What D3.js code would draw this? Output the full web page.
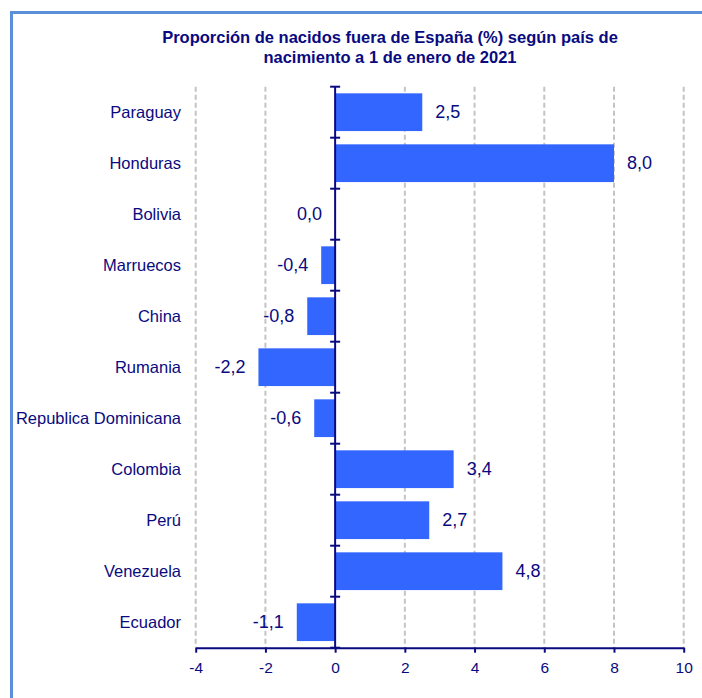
<!DOCTYPE html>
<html>
<head>
<meta charset="utf-8">
<script src="https://cdn.jsdelivr.net/npm/d3@7"></script>
<style>
  html, body { margin: 0; padding: 0; background: #fff; }
  svg { display: block; font-family: Arial, "Liberation Sans", sans-serif; }
</style>
</head>
<body>
<svg id="chart" width="702" height="698"></svg>
<script>
const titleLines = ["Proporción de nacidos fuera de España (%) según país de", "nacimiento a 1 de enero de 2021"];
const categories = ["Paraguay", "Honduras", "Bolivia", "Marruecos", "China", "Rumania", "Republica Dominicana", "Colombia", "Perú", "Venezuela", "Ecuador"];
const values = [2.5, 8.0, 0.0, -0.4, -0.8, -2.2, -0.6, 3.4, 2.7, 4.8, -1.1];
const xTicks = [-4, -2, 0, 2, 4, 6, 8, 10];

const navy = "#0a0a80";
const svg = d3.select("#chart");

// frame
svg.append("rect").attr("x", 11.5).attr("y", 12.5).attr("width", 700).attr("height", 700)
  .attr("fill", "none").attr("stroke", "#5b8fd7").attr("stroke-width", 3);

// title
svg.append("text").attr("x", 390).attr("y", 43).attr("text-anchor", "middle")
  .attr("font-size", "16.5px").attr("font-weight", "bold").attr("fill", navy)
  .selectAll("tspan").data(titleLines).join("tspan")
  .attr("x", 390).attr("dy", (d, i) => i === 0 ? 0 : 19.5).text(d => d);

const plotTop = 86.7, plotBottom = 647.7;
const x = d3.scaleLinear().domain([-4, 10]).range([195.7, 683.7]);
const y = d3.scaleBand().domain(categories).range([plotTop, plotBottom]).paddingInner(0.26).paddingOuter(0.13);

// gridlines
svg.append("g").selectAll("line").data(xTicks.filter(t => t !== 0)).join("line")
  .attr("x1", d => x(d)).attr("x2", d => x(d)).attr("y1", plotTop).attr("y2", plotBottom)
  .attr("stroke", "#c4c4c4").attr("stroke-width", 2).attr("stroke-dasharray", "5,3");

const data = categories.map((c, i) => ({c, v: values[i]}));

// bars
svg.append("g").selectAll("rect").data(data).join("rect")
  .attr("x", d => x(Math.min(0, d.v))).attr("width", d => Math.abs(x(d.v) - x(0)))
  .attr("y", d => y(d.c)).attr("height", y.bandwidth())
  .attr("fill", "#3366ff");

// value labels
const fmt = v => v.toFixed(1).replace(".", ",");
svg.append("g").selectAll("text").data(data).join("text")
  .attr("x", d => d.v > 0 ? x(d.v) + 13 : x(d.v) - 13)
  .attr("y", d => y(d.c) + y.bandwidth() / 2)
  .attr("dy", "0.33em")
  .attr("text-anchor", d => d.v > 0 ? "start" : "end")
  .attr("font-size", "18px").attr("fill", navy)
  .text(d => fmt(d.v));

// category labels
svg.append("g").selectAll("text").data(categories).join("text")
  .attr("x", 181).attr("y", d => y(d) + y.bandwidth() / 2).attr("dy", "0.35em")
  .attr("text-anchor", "end").attr("font-size", "16.5px").attr("fill", navy)
  .text(d => d);

// y axis line with ticks at band boundaries
const yAxis = svg.append("g");
yAxis.append("line").attr("x1", x(0)).attr("x2", x(0)).attr("y1", plotTop).attr("y2", plotBottom)
  .attr("stroke", navy).attr("stroke-width", 2);
const boundaries = d3.range(categories.length + 1).map(i => plotTop + i * y.step());
yAxis.selectAll(".yt").data(boundaries).join("line").attr("class", "yt")
  .attr("x1", x(0) - 5).attr("x2", x(0) + 5).attr("y1", d => d).attr("y2", d => d)
  .attr("stroke", navy).attr("stroke-width", 2);

// x axis
const xAxisG = svg.append("g").attr("transform", `translate(0,${plotBottom})`)
  .call(d3.axisBottom(x).tickValues(xTicks).tickSize(5).tickSizeOuter(0).tickPadding(9).tickFormat(d => String(d)));
xAxisG.select(".domain").attr("stroke", navy).attr("stroke-width", 2);
xAxisG.selectAll(".tick line").attr("stroke", navy).attr("stroke-width", 2);
xAxisG.selectAll(".tick text").attr("fill", navy).attr("font-size", "15.5px")
  .attr("font-family", "Arial, 'Liberation Sans', sans-serif");
</script>
</body>
</html>
